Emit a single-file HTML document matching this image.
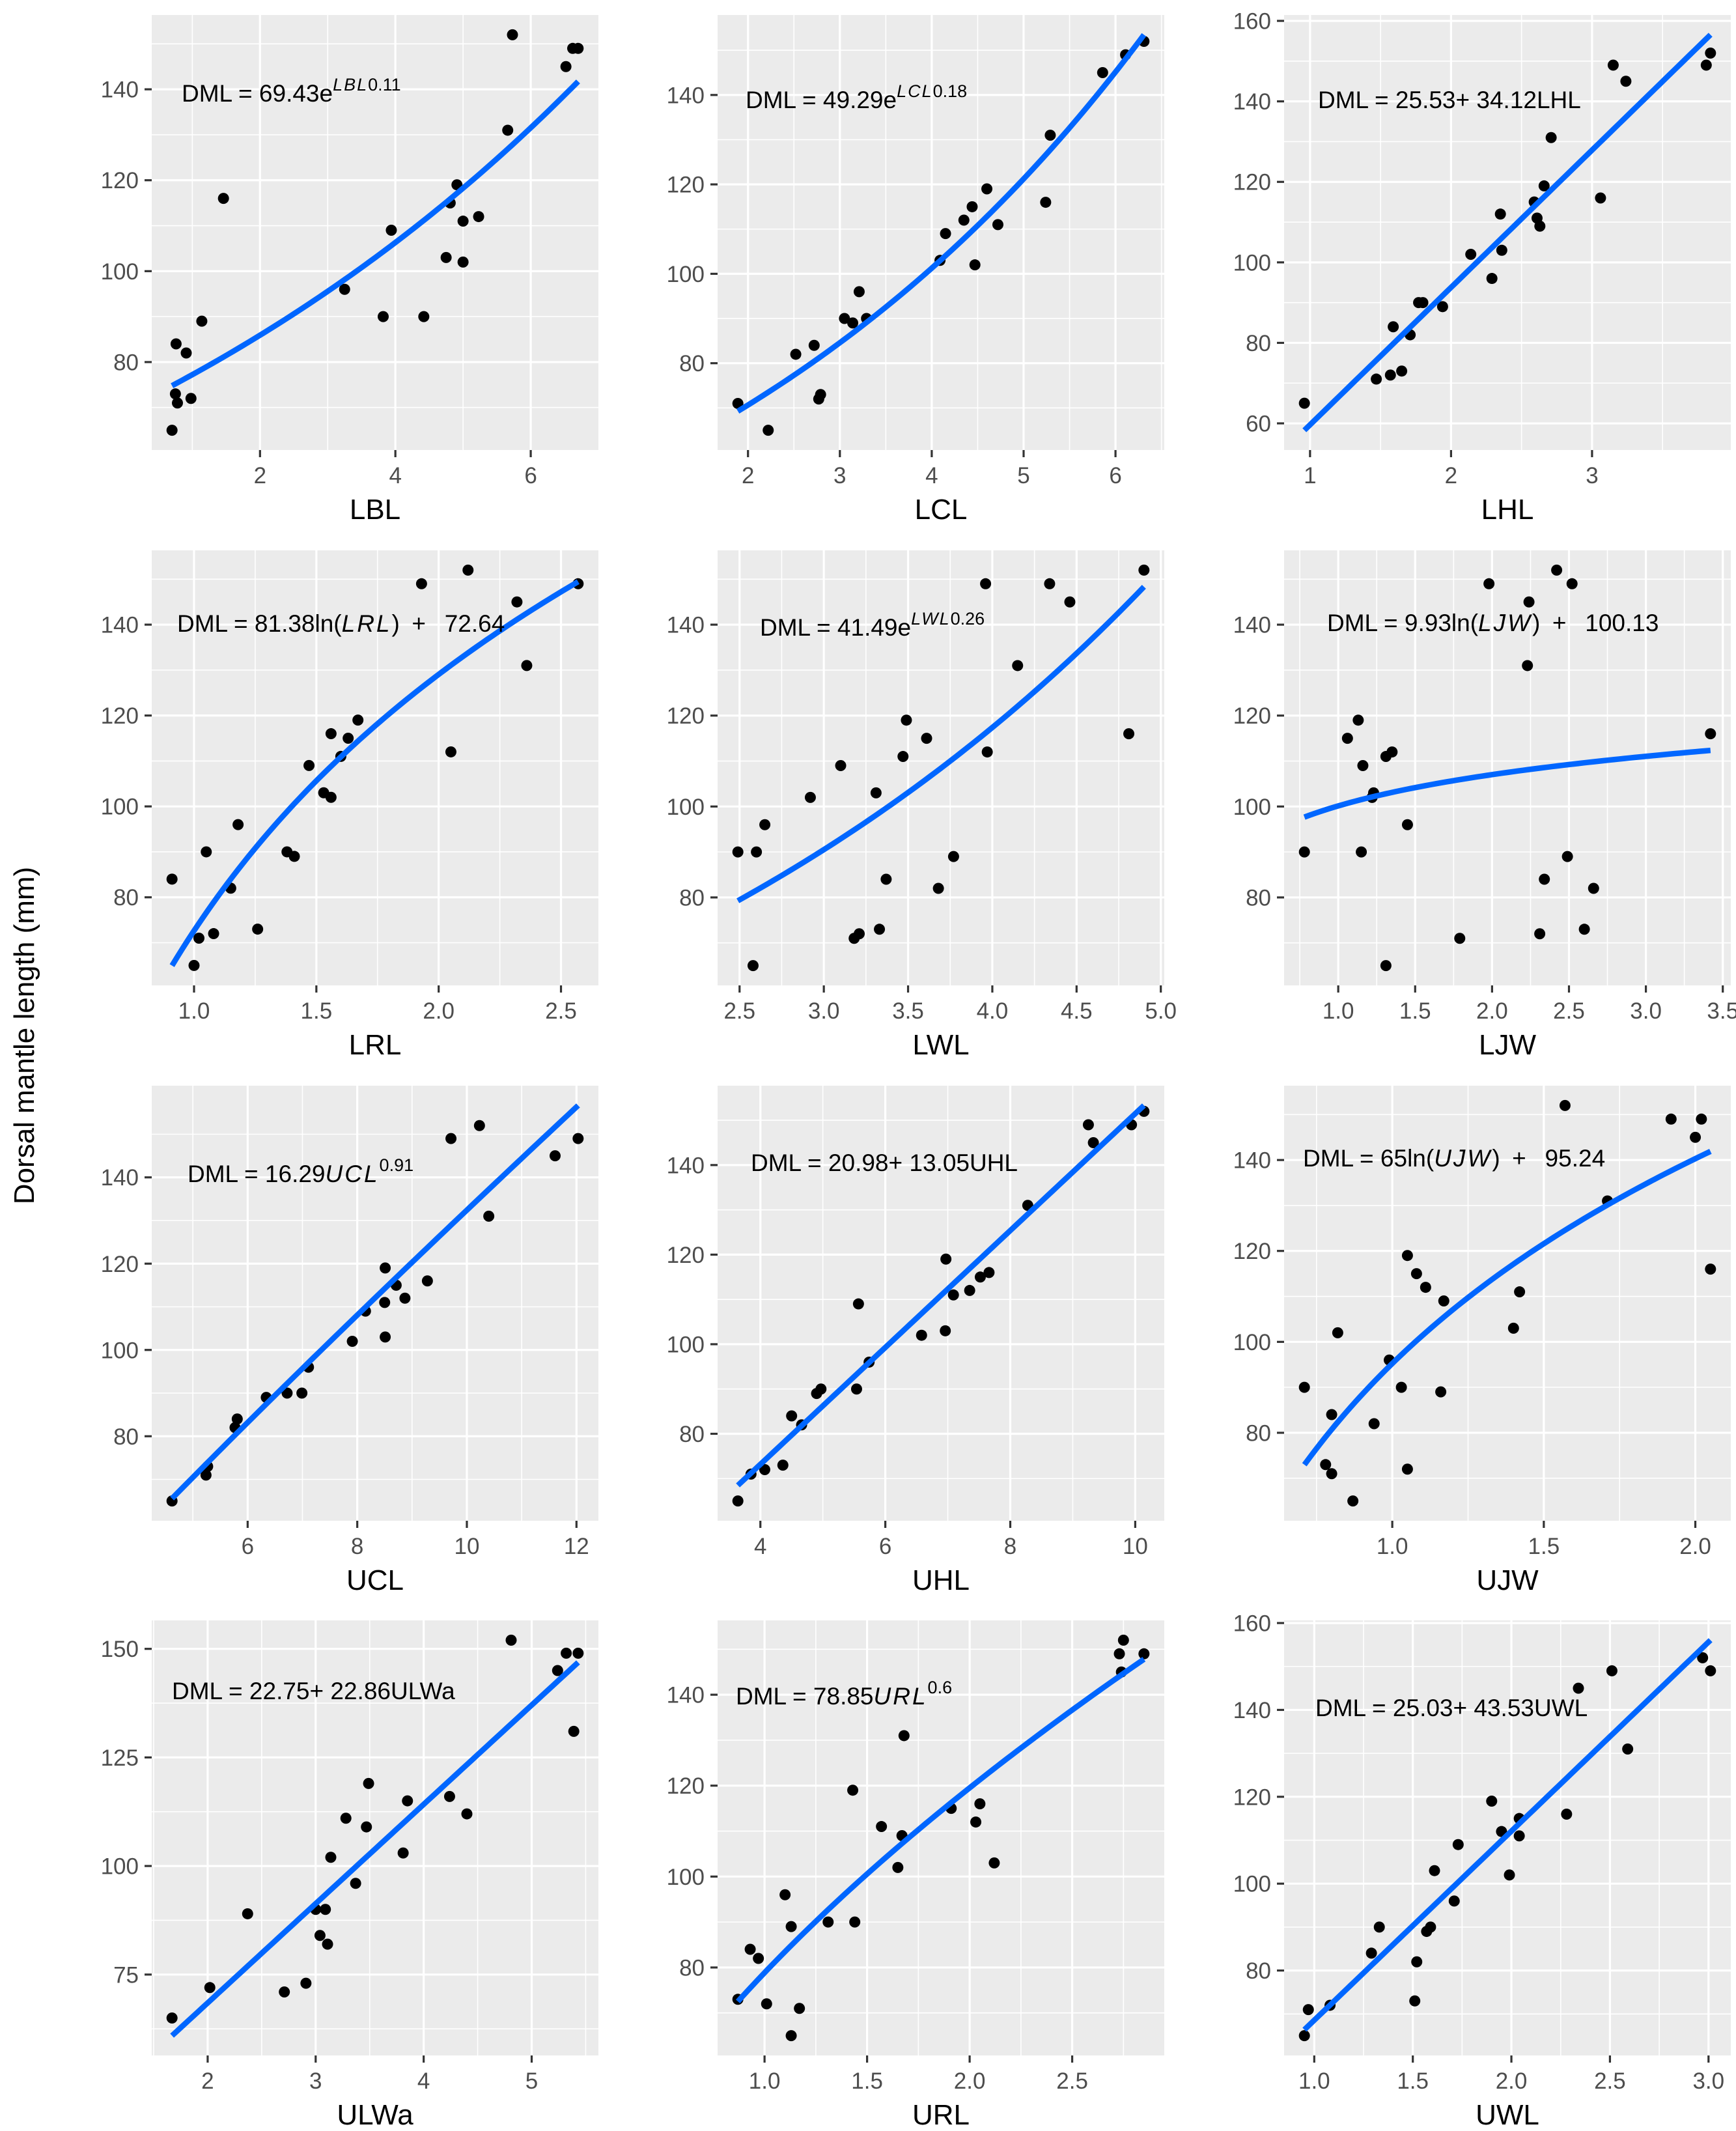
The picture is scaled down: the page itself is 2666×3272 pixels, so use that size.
<!DOCTYPE html>
<html>
<head>
<meta charset="utf-8">
<style>
  html, body { margin: 0; padding: 0; background: #ffffff; }
  body { width: 2666px; height: 3272px; overflow: hidden; }
  svg { display: block; font-family: "Liberation Sans", Arial, sans-serif; }
</style>
</head>
<body>
<svg id="chart" xmlns="http://www.w3.org/2000/svg" width="2666" height="3272" viewBox="0 0 2666 3272">
  <rect x="0" y="0" width="2666" height="3272" fill="#ffffff"/>
  <text x="0" y="0" transform="translate(52,1590) rotate(-90)" text-anchor="middle" font-size="44" fill="#000">Dorsal mantle length (mm)</text>
</svg>
<script>
// ---------- data ----------
const lblX = [0.70,0.75,0.78,0.76,0.91,0.98,1.14,1.46,3.25,3.82,3.94,4.42,4.75,4.81,4.91,5.00,5.00,5.23,5.66,5.73,6.52,6.62,6.70];
const lblY = [65,73,71,84,82,72,89,116,96,90,109,90,103,115,119,111,102,112,131,152,145,149,149];
const lclX = [1.89,2.22,2.52,2.72,2.77,2.79,3.05,3.14,3.21,3.29,4.09,4.15,4.35,4.44,4.60,4.47,4.72,5.24,5.29,5.86,6.11,6.31];
const lclY = [71,65,82,84,72,73,90,89,96,90,103,109,112,115,119,102,111,116,131,145,149,152];
const lhlX = [0.96,1.47,1.57,1.65,1.59,1.71,1.77,1.80,1.94,2.14,2.29,2.35,2.36,2.59,2.61,2.63,2.66,2.71,3.06,3.15,3.24,3.81,3.84];
const lhlY = [65,71,72,73,84,82,90,90,89,102,96,112,103,115,111,109,119,131,116,149,145,149,152];
const lrlX = [0.91,1.00,1.02,1.08,1.05,1.15,1.18,1.26,1.38,1.41,1.47,1.53,1.56,1.56,1.60,1.63,1.67,1.93,2.05,2.12,2.32,2.36,2.57];
const lrlY = [84,65,71,72,90,82,96,73,90,89,109,103,102,116,111,115,119,149,112,152,145,131,149];
const lwlX = [2.49,2.60,2.65,2.58,2.92,3.10,3.18,3.21,3.31,3.33,3.37,3.47,3.49,3.61,3.68,3.77,3.96,3.97,4.15,4.34,4.46,4.81,4.90];
const lwlY = [90,90,96,65,102,109,71,72,103,73,84,111,119,115,82,89,149,112,131,149,145,116,152];
const ljwX = [0.78,1.06,1.13,1.16,1.15,1.23,1.22,1.31,1.35,1.31,1.45,1.79,1.98,2.23,2.24,2.31,2.34,2.42,2.49,2.52,2.60,2.66,3.42];
const ljwY = [90,115,119,109,90,103,102,111,112,65,96,71,149,131,145,72,84,152,89,149,73,82,116];
const uclX = [4.62,5.24,5.27,5.77,5.81,6.34,6.72,6.99,7.11,7.91,8.15,8.51,8.50,8.51,8.71,8.87,9.28,9.71,10.23,10.40,11.61,12.03];
const uclY = [65,71,73,82,84,89,90,90,96,102,109,119,111,103,115,112,116,149,152,131,145,149];
const uhlX = [3.64,3.85,4.07,4.36,4.50,4.66,4.90,4.97,5.54,5.74,5.57,6.58,6.96,6.97,7.09,7.35,7.52,7.66,8.28,9.25,9.33,9.94,10.14];
const uhlY = [65,71,72,73,84,82,89,90,90,96,109,102,103,119,111,112,115,116,131,149,145,149,152];
const ujwX = [0.71,0.82,0.80,0.78,0.80,0.87,0.94,0.99,1.03,1.05,1.05,1.08,1.11,1.16,1.17,1.40,1.42,1.57,1.71,1.92,2.00,2.02,2.05];
const ujwY = [90,102,84,73,71,65,82,96,90,72,119,115,112,89,109,103,111,152,131,149,145,149,116];
const ulwaX = [1.67,2.02,2.37,2.71,2.91,3.00,3.09,3.04,3.11,3.14,3.28,3.37,3.47,3.49,3.81,3.85,4.24,4.40,4.81,5.24,5.32,5.43,5.39];
const ulwaY = [65,72,89,71,73,90,90,84,82,102,111,96,109,119,103,115,116,112,152,145,149,149,131];
const urlX = [0.87,0.93,0.97,1.01,1.13,1.17,1.10,1.13,1.31,1.44,1.43,1.57,1.65,1.67,1.68,1.91,2.03,2.05,2.12,2.73,2.75,2.74,2.85];
const urlY = [73,84,82,72,65,71,96,89,90,90,119,111,102,109,131,115,112,116,103,149,152,145,149];
const uwlX = [0.95,0.97,1.08,1.29,1.33,1.51,1.52,1.57,1.59,1.61,1.71,1.73,1.90,1.95,1.99,2.04,2.04,2.28,2.34,2.51,2.59,2.97,3.01];
const uwlY = [65,71,72,84,90,73,82,89,90,103,96,109,119,112,102,115,111,116,145,149,131,152,149];

// fit types and coefficients per panel (exp: a*e^(b*x), lin: a+b*x, log: a*ln(x)+b, pow: a*x^b)
const fitTypes = ['exp','exp','lin','log','exp','log','pow','lin','log','lin','pow','lin'];
const fitA = [69.43,49.29,25.53,81.38,41.49,9.93,16.29,20.98,65,22.75,78.85,25.03];
const fitB = [0.1065,0.18,34.12,72.64,0.26,100.13,0.91,13.05,95.24,22.86,0.6,43.53];

// tick labels
const xTicks = [
  ['2','4','6'], ['2','3','4','5','6'], ['1','2','3'],
  ['1.0','1.5','2.0','2.5'], ['2.5','3.0','3.5','4.0','4.5','5.0'], ['1.0','1.5','2.0','2.5','3.0','3.5'],
  ['6','8','10','12'], ['4','6','8','10'], ['1.0','1.5','2.0'],
  ['2','3','4','5'], ['1.0','1.5','2.0','2.5'], ['1.0','1.5','2.0','2.5','3.0']
];
const yTicks = [
  ['80','100','120','140'], ['80','100','120','140'], ['60','80','100','120','140','160'],
  ['80','100','120','140'], ['80','100','120','140'], ['80','100','120','140'],
  ['80','100','120','140'], ['80','100','120','140'], ['80','100','120','140'],
  ['75','100','125','150'], ['80','100','120','140'], ['80','100','120','140','160']
];
const xTitles = ['LBL','LCL','LHL','LRL','LWL','LJW','UCL','UHL','UJW','ULWa','URL','UWL'];

// ---------- layout ----------
const PX = [233, 1102, 1972], PY = [23, 845, 1667, 2488], PW = 686, PH = 668;
const EQ_OFF = [[46,133],[43,143],[52,143],[39,125],[65,131],[66,124],[55,148],[51,131],[29,124],[31,121],[28,129],[48,147]];

const NS = 'http://www.w3.org/2000/svg';
const svg = document.getElementById('chart');
const panelsX = [lblX,lclX,lhlX,lrlX,lwlX,ljwX,uclX,uhlX,ujwX,ulwaX,urlX,uwlX];
const panelsY = [lblY,lclY,lhlY,lrlY,lwlY,ljwY,uclY,uhlY,ujwY,ulwaY,urlY,uwlY];

function fitFn(i, x) {
  const t = fitTypes[i], a = fitA[i], b = fitB[i];
  if (t === 'exp') return a * Math.exp(b * x);
  if (t === 'lin') return a + b * x;
  if (t === 'log') return a * Math.log(x) + b;
  return a * Math.pow(x, b);
}
function mk(tag, attrs) {
  const e = document.createElementNS(NS, tag);
  for (const k in attrs) e.setAttribute(k, attrs[k]);
  return e;
}
function eqMarkup(i) {
  const v = xTitles[i], t = fitTypes[i];
  const it = '<tspan font-style="italic" letter-spacing="3">';
  if (t === 'lin') return 'DML = ' + fitA[i].toFixed(2) + '+ ' + fitB[i].toFixed(2) + v;
  if (t === 'exp') {
    const shown = i === 0 ? '0.11' : fitB[i].toFixed(2);
    return 'DML = ' + fitA[i].toFixed(2) + 'e<tspan dy="-17" font-size="27" font-style="italic" letter-spacing="2">' + v + '</tspan><tspan font-size="27">' + shown + '</tspan>';
  }
  if (t === 'log') return 'DML = ' + String(fitA[i]) + 'ln(' + it + v + '</tspan>)\u2002+\u2002 ' + fitB[i].toFixed(2);
  return 'DML = ' + fitA[i].toFixed(2) + it + v + '</tspan><tspan dy="-17" font-size="27">' + String(fitB[i]) + '</tspan>';
}

for (let i = 0; i < 12; i++) {
  const col = i % 3, row = Math.floor(i / 3);
  const L = PX[col], T = PY[row], R = L + PW, B = T + PH;
  const xs = panelsX[i], ys = panelsY[i];
  const xmin0 = Math.min(...xs), xmax0 = Math.max(...xs);
  const fx = [];
  for (let k = 0; k <= 80; k++) { const x = xmin0 + (xmax0 - xmin0) * k / 80; fx.push([x, fitFn(i, x)]); }
  let ymin0 = Math.min(...ys, ...fx.map(p => p[1])), ymax0 = Math.max(...ys, ...fx.map(p => p[1]));
  const ex = (xmax0 - xmin0) * 0.05, ey = (ymax0 - ymin0) * 0.05;
  const xmin = xmin0 - ex, xmax = xmax0 + ex, ymin = ymin0 - ey, ymax = ymax0 + ey;
  const sx = x => L + (x - xmin) / (xmax - xmin) * PW;
  const sy = y => B - (y - ymin) / (ymax - ymin) * PH;

  const g = mk('g', {});
  
  
  svg.appendChild(g);

  const bg = mk('rect', {x: L, y: T, width: PW, height: PH, fill: '#EBEBEB'});
  
  
  g.appendChild(bg);

  const xv = xTicks[i].map(parseFloat), yv = yTicks[i].map(parseFloat);
  const minors = (v, lo, hi) => {
    const st = v[1] - v[0], out = [];
    out.push(v[0] - st / 2);
    for (let k = 0; k < v.length - 1; k++) out.push((v[k] + v[k + 1]) / 2);
    out.push(v[v.length - 1] + st / 2);
    return out.filter(m => m > lo && m < hi);
  };
  minors(xv, xmin, xmax).forEach(m => {
    const ln = mk('line', {x1: sx(m), x2: sx(m), y1: T, y2: B, stroke: '#fff', 'stroke-width': 1.6});
    
    
    g.appendChild(ln);
  });
  minors(yv, ymin, ymax).forEach(m => {
    const ln = mk('line', {x1: L, x2: R, y1: sy(m), y2: sy(m), stroke: '#fff', 'stroke-width': 1.6});
    
    
    g.appendChild(ln);
  });
  xv.forEach((v, k) => {
    const X = sx(v);
    const ln = mk('line', {x1: X, x2: X, y1: T, y2: B, stroke: '#fff', 'stroke-width': 3.2});
    
    
    g.appendChild(ln);
    const tk = mk('line', {x1: X, x2: X, y1: B, y2: B + 11, stroke: '#333', 'stroke-width': 3.2});
    
    
    g.appendChild(tk);
    const tl = mk('text', {x: X, y: B + 51, 'text-anchor': 'middle', 'font-size': 35, fill: '#4D4D4D'});
    
    
    tl.textContent = xTicks[i][k];
    g.appendChild(tl);
  });
  yv.forEach((v, k) => {
    const Y = sy(v);
    const ln = mk('line', {x1: L, x2: R, y1: Y, y2: Y, stroke: '#fff', 'stroke-width': 3.2});
    
    
    g.appendChild(ln);
    const tk = mk('line', {x1: L - 11, x2: L, y1: Y, y2: Y, stroke: '#333', 'stroke-width': 3.2});
    
    
    g.appendChild(tk);
    const tl = mk('text', {x: L - 20, y: Y + 12.5, 'text-anchor': 'end', 'font-size': 35, fill: '#4D4D4D'});
    
    
    tl.textContent = yTicks[i][k];
    g.appendChild(tl);
  });

  xs.forEach((x, k) => {
    const c = mk('circle', {cx: sx(x), cy: sy(ys[k]), r: 8.5, fill: '#000'});
    
    
    g.appendChild(c);
  });

  const d = fx.map((p, k) => (k ? 'L' : 'M') + sx(p[0]).toFixed(2) + ',' + sy(p[1]).toFixed(2)).join(' ');
  const path = mk('path', {d: d, fill: 'none', stroke: '#0066FF', 'stroke-width': 8.5});
  
  
  g.appendChild(path);

  const eq = mk('text', {x: L + EQ_OFF[i][0], y: T + EQ_OFF[i][1], 'font-size': 37, fill: '#000'});
  
  
  eq.innerHTML = eqMarkup(i);
  g.appendChild(eq);

  const tt = mk('text', {x: L + PW / 2, y: B + 106, 'text-anchor': 'middle', 'font-size': 44, fill: '#000'});
  
  
  tt.textContent = xTitles[i];
  g.appendChild(tt);
}
</script>
</body>
</html>
